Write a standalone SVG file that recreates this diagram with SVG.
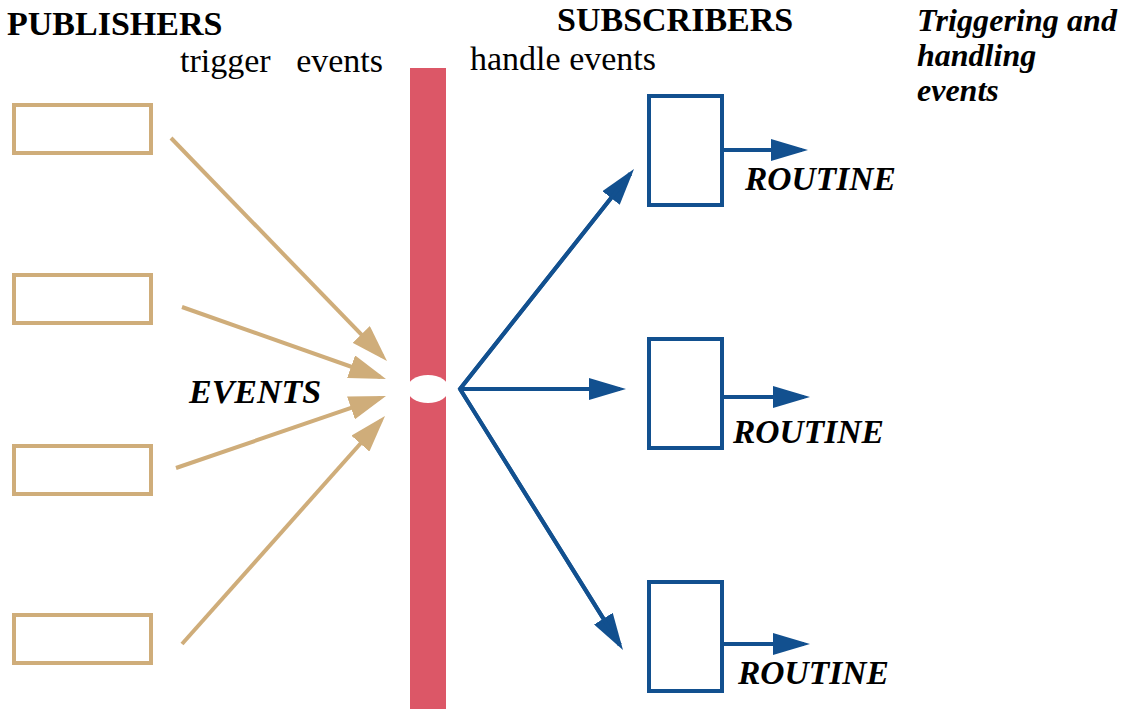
<svg xmlns="http://www.w3.org/2000/svg" width="1133" height="709" viewBox="0 0 1133 709">
  <style>
    .pub { fill: none; stroke: #cfad7a; stroke-width: 4; }
    .sub { fill: none; stroke: #12508f; stroke-width: 4; }
    .tan { stroke: #cfad7a; stroke-width: 4; fill: none; marker-end: url(#headTan); }
    .blue { stroke: #12508f; stroke-width: 4; fill: none; marker-end: url(#headBlue); }
  </style>
  <defs>
    <marker id="headTan" markerUnits="userSpaceOnUse" markerWidth="38" markerHeight="24" refX="31" refY="12" orient="auto">
      <path d="M0,0 L37,12 L0,24 z" fill="#cfad7a"/>
    </marker>
    <marker id="headBlue" markerUnits="userSpaceOnUse" markerWidth="38" markerHeight="22" refX="31" refY="11" orient="auto">
      <path d="M0,0 L37,11 L0,22 z" fill="#12508f"/>
    </marker>
  </defs>

  <rect width="1133" height="709" fill="#fff"/>

  <!-- event channel -->
  <g id="channel">
    <rect x="410" y="68" width="36" height="641" fill="#dc5767"/>
    <ellipse cx="428" cy="389" rx="21" ry="14" fill="#fff"/>
  </g>

  <!-- publishers -->
  <g id="pub1"><rect class="pub" x="14" y="105" width="137" height="48"/></g>
  <g id="pub2"><rect class="pub" x="14" y="275" width="137" height="48"/></g>
  <g id="pub3"><rect class="pub" x="14" y="446" width="137" height="48"/></g>
  <g id="pub4"><rect class="pub" x="14" y="615" width="137" height="48"/></g>

  <!-- subscribers -->
  <g id="sub1"><rect class="sub" x="649" y="96" width="73" height="109"/></g>
  <g id="sub2"><rect class="sub" x="649" y="339" width="73" height="109"/></g>
  <g id="sub3"><rect class="sub" x="649" y="582" width="73" height="109"/></g>

  <!-- connectors -->
  <g id="connectors">
    <line class="tan" x1="171" y1="138" x2="382.8" y2="356.7"/>
    <line class="tan" x1="182" y1="307" x2="380.3" y2="377"/>
    <line class="tan" x1="176" y1="468" x2="380.3" y2="397.9"/>
    <line class="tan" x1="182" y1="644" x2="381" y2="420.5"/>

    <path class="blue" d="M460,389 L630.3,173.7"/>
    <path class="blue" d="M460,389 L620,389"/>
    <path class="blue" d="M460,389 L619.8,644.9"/>
    <path d="M630.3,173.7 L460,389 L619.8,644.9" fill="none" stroke="#12508f" stroke-width="4" stroke-linejoin="miter" stroke-miterlimit="10"/>

    <line class="blue" x1="724" y1="150" x2="802" y2="150"/>
    <line class="blue" x1="724" y1="397" x2="804" y2="397"/>
    <line class="blue" x1="724" y1="644" x2="804" y2="644"/>
  </g>

  <!-- labels -->
  <g id="labels" font-family="Liberation Serif, serif" fill="#000">
    <g font-size="34" font-weight="bold">
      <text x="7" y="35">PUBLISHERS</text>
      <text x="557" y="31">SUBSCRIBERS</text>
    </g>
    <g font-size="34">
      <text x="180" y="72" xml:space="preserve">trigger   events</text>
      <text x="470" y="70">handle events</text>
    </g>
    <g font-size="34" font-weight="bold" font-style="italic">
      <text x="189" y="403">EVENTS</text>
      <text x="745" y="190" font-size="33.5">ROUTINE</text>
      <text x="733" y="443" font-size="33.5">ROUTINE</text>
      <text x="738" y="684" font-size="33.5">ROUTINE</text>
    </g>
    <g font-size="32" font-weight="bold" font-style="italic">
      <text x="917" y="31" textLength="200" lengthAdjust="spacing">Triggering and</text>
      <text x="917" y="66">handling</text>
      <text x="917" y="101">events</text>
    </g>
  </g>
</svg>
